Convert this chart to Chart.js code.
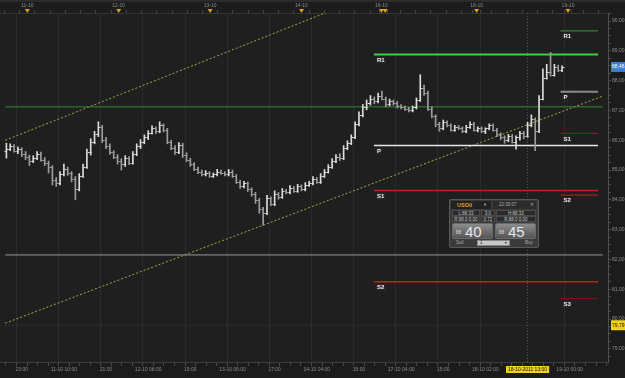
<!DOCTYPE html>
<html>
<head>
<meta charset="utf-8">
<script src="https://cdn.jsdelivr.net/npm/chart.js@4.4.0/dist/chart.umd.min.js"></script>
<style>
  html, body { margin: 0; padding: 0; background: #1c1c1c; }
  #wrap { position: relative; width: 625px; height: 378px; }
  #panel { position: absolute; left: 449px; top: 199px; width: 88px; height: 47px;
    background: #3b3b3b; border: 1px solid #5a5a5a; border-radius: 2px;
    font-family: "Liberation Sans", Arial, sans-serif; color: #c8c8c8; }
  #panel div { position: absolute; box-sizing: border-box; white-space: nowrap; }
  .cell { background: #2a2a2a; border: 1px solid #4a4a4a; font-size: 4.5px; line-height: 5px; text-align: center; }
  .btn { background: linear-gradient(#8c8c8c, #555); border: 1px solid #6a6a6a; border-radius: 2px; }
  .small { font-size: 4.5px; color: #ddd; }
  .big { font-size: 15px; color: #e8e8e8; line-height: 15px; }
</style>
</head>
<body>
<div id="wrap">
  <canvas id="oilChart" width="625" height="378"></canvas>
  <div id="panel">
    <div style="left:1px;top:1px;width:40px;height:8px;background:#222;"></div>
    <div style="left:7px;top:1px;font-size:5.5px;line-height:8px;color:#e0a030;font-weight:bold;">USOil</div>
    <div style="left:33px;top:1px;font-size:4px;line-height:8px;color:#bbb;">▼</div>
    <div style="left:43px;top:1px;width:43px;height:8px;background:#2c2c2c;"></div>
    <div style="left:49px;top:1px;font-size:4.5px;line-height:8px;color:#aaa;">22:39:07</div>
    <div style="left:80px;top:1px;font-size:4.5px;line-height:8px;color:#aaa;">✕</div>
    <div class="cell" style="left:2px;top:10px;width:28px;height:6px;">L:88.33</div>
    <div class="cell" style="left:31px;top:10px;width:14px;height:6px;">3.0</div>
    <div class="cell" style="left:46px;top:10px;width:40px;height:6px;">H:88.33</div>
    <div class="cell" style="left:2px;top:16px;width:28px;height:6px;">R:88.0 0.00</div>
    <div class="cell" style="left:31px;top:16px;width:14px;height:6px;">0.72</div>
    <div class="cell" style="left:46px;top:16px;width:40px;height:6px;">R:88.0 0.00</div>
    <div class="btn" style="left:2px;top:23px;width:41px;height:16px;"></div>
    <div class="small" style="left:6px;top:30px;">88</div>
    <div class="big" style="left:15px;top:24px;">40</div>
    <div class="btn" style="left:45px;top:23px;width:41px;height:16px;"></div>
    <div class="small" style="left:49px;top:30px;">88</div>
    <div class="big" style="left:58px;top:24px;">45</div>
    <div style="left:6px;top:40px;font-size:4.5px;color:#aaa;">Sell</div>
    <div style="left:27px;top:40px;width:33px;height:6px;background:#c8c8c8;border:1px solid #888;"></div>
    <div style="left:30px;top:40px;font-size:4.5px;line-height:6px;color:#222;">1</div>
    <div style="left:54px;top:40px;font-size:3.5px;line-height:6px;color:#222;">▼</div>
    <div style="left:75px;top:40px;font-size:4.5px;color:#aaa;">Buy</div>
  </div>
</div>
<script>
// hourly OHLC bars (index = trading hour, weekend removed)
const opens = [85.65,85.72,85.80,85.65,85.70, 85.55,85.45,85.30,85.40,85.55,85.35,85.25, 85.10,84.65, 84.55,84.85,85.05,84.90,84.70, 84.35,84.80, 85.10,85.60,85.95,86.20, 86.45,86.00,85.80,85.60, 85.45,85.30,85.20,85.40, 85.25,85.55,85.80,85.95, 86.10,86.25,86.40,86.30,86.50, 86.35,85.95,85.75,85.60, 85.85,85.50,85.35,85.20, 85.05,84.95,84.85,84.90,84.80,84.85,84.95,84.90,84.85,84.95, 84.80,84.60,84.45,84.55,84.35, 84.20,84.00,83.70, 83.55,84.05,83.85,84.20,84.10, 84.30,84.25,84.40,84.30,84.45, 84.35,84.50,84.55,84.70,84.60,84.80, 84.95,85.10,85.30,85.45, 85.40,85.75,85.90, 86.10,86.55,86.85, 87.10,87.25,87.40,87.30,87.50, 87.40,87.20,87.30,87.25,87.15,87.10,87.05,87.00,87.10, 87.35,87.75, 87.60,87.05,86.80, 86.55,86.40,86.60,86.50,86.35,86.45,86.40,86.30,86.45,86.55,86.35,86.40,86.30,86.40,86.50, 86.35,86.20,86.10,86.00,86.15,85.95,86.10,86.25, 86.15,86.50,86.70, 86.30,87.40, 88.10,88.30, 88.20,88.45,88.35];
const highs = [85.90,85.88,85.85,85.78,85.75, 85.62,85.50,85.48,85.62,85.60,85.42,85.30, 85.15,84.75, 84.95,85.20,85.10,84.95,84.78, 84.88,85.20, 85.70,86.05,86.30,86.62, 86.50,86.10,85.88,85.65, 85.52,85.38,85.48,85.45, 85.62,85.88,86.02,86.18, 86.32,86.48,86.45,86.62,86.55, 86.40,86.00,85.82,85.92, 85.90,85.58,85.40,85.25, 85.10,85.00,84.98,84.95,84.90,85.02,85.00,84.95,85.02,85.00, 84.85,84.65,84.62,84.60,84.40, 84.25,84.05,83.75, 84.15,84.10,84.30,84.25,84.38, 84.35,84.48,84.45,84.52,84.50, 84.58,84.62,84.78,84.75,84.88,85.02, 85.18,85.38,85.52,85.55, 85.82,85.98,86.18, 86.62,86.95,87.20, 87.35,87.50,87.45,87.58,87.65, 87.45,87.38,87.35,87.30,87.20,87.15,87.10,87.15,87.42, 88.20,87.85, 87.65,87.12,86.85, 86.60,86.68,86.65,86.55,86.50,86.50,86.45,86.50,86.62,86.60,86.45,86.45,86.42,86.55,86.55, 86.40,86.25,86.15,86.20,86.20,86.15,86.30,86.30, 86.60,86.85,86.75, 87.50,88.40, 88.55,88.95, 88.55,88.52,88.50];
const lows = [85.40,85.65,85.60,85.55,85.45, 85.35,85.15,85.25,85.35,85.30,85.15,84.90, 84.50,84.45, 84.50,84.80,84.82,84.60,84.00, 84.30,84.75, 85.05,85.50,85.88,86.12, 85.92,85.72,85.52,85.38, 85.20,85.00,85.12,85.18, 85.20,85.48,85.72,85.88, 86.02,86.20,86.22,86.25,86.28, 85.88,85.68,85.52,85.55, 85.42,85.28,85.12,84.98, 84.88,84.80,84.80,84.75,84.75,84.80,84.85,84.80,84.80,84.75, 84.55,84.38,84.40,84.28,84.12, 83.88,83.55,83.15, 83.50,83.80,83.80,84.02,84.05, 84.20,84.20,84.25,84.25,84.30, 84.30,84.45,84.50,84.55,84.55,84.75, 84.90,85.05,85.25,85.32, 85.35,85.68,85.85, 86.05,86.48,86.78, 87.02,87.18,87.22,87.25,87.35, 87.12,87.15,87.18,87.08,87.05,87.00,86.95,86.95,87.05, 87.30,87.50, 87.00,86.75,86.45, 86.30,86.35,86.45,86.30,86.30,86.35,86.25,86.25,86.40,86.30,86.28,86.25,86.22,86.35,86.30, 86.12,86.02,85.90,85.95,85.90,85.70,86.00,86.05, 86.10,86.45,85.65, 86.25,87.35, 88.05,88.15, 88.15,88.30,88.30];
const closes = [85.72,85.80,85.65,85.70,85.55, 85.45,85.30,85.40,85.55,85.35,85.25,85.10, 84.65,84.55, 84.85,85.05,84.90,84.70,84.35, 84.80,85.10, 85.60,85.95,86.20,86.45, 86.00,85.80,85.60,85.45, 85.30,85.20,85.40,85.25, 85.55,85.80,85.95,86.10, 86.25,86.40,86.30,86.50,86.35, 85.95,85.75,85.60,85.85, 85.50,85.35,85.20,85.05, 84.95,84.85,84.90,84.80,84.85,84.95,84.90,84.85,84.95,84.80, 84.60,84.45,84.55,84.35,84.20, 84.00,83.70,83.55, 84.05,83.85,84.20,84.10,84.30, 84.25,84.40,84.30,84.45,84.35, 84.50,84.55,84.70,84.60,84.80,84.95, 85.10,85.30,85.45,85.40, 85.75,85.90,86.10, 86.55,86.85,87.10, 87.25,87.40,87.30,87.50,87.40, 87.20,87.30,87.25,87.15,87.10,87.05,87.00,87.10,87.35, 87.75,87.60, 87.05,86.80,86.55, 86.40,86.60,86.50,86.35,86.45,86.40,86.30,86.45,86.55,86.35,86.40,86.30,86.40,86.50,86.35, 86.20,86.10,86.00,86.15,85.95,86.10,86.25,86.15, 86.50,86.70,86.30, 87.40,88.10, 88.30,88.20, 88.45,88.35,88.46];

// pivot levels (today, drawn from the session start)
const pivotNamesA = ['R1', 'P', 'S1', 'S2'];
const pivotValuesA = [88.88, 85.82, 84.31, 81.25];
const pivotStartA = 95.9;
// pivot levels (next session)
const pivotNamesB = ['R1', 'P', 'S1', 'S2', 'S3'];
const pivotValuesB = [89.67, 87.63, 86.23, 84.16, 80.69];
const pivotStartB = 144.6;
const pivotEnd = 154.4;
// full width horizontal lines
const hLineGreen = 87.12;
const hLineGray = 82.15;
// trend channel
const upperTrend = [[-0.3, 86.00], [90, 90.62]];
const lowerTrend = [[-0.3, 79.86], [155.6, 87.48]];
// crosshair
const crossX = 136;
const crossY = 79.79;
const lastPrice = 88.46;

// axis labels
const bottomTickPos = [4, 15, 26, 37, 48, 59, 70, 81, 92, 103, 114, 125, 136, 147];
const bottomTickText = ['23:00', '11-10 10:00', '21:00', '12-10 08:00', '19:00', '13-10 06:00', '17:00', '14-10 04:00', '15:00', '17-10 04:00', '15:00', '18-10 02:00', '18-10-2011 13:00', '19-10 00:00'];
const topTickPos = [5, 29, 53, 77, 98, 123, 147];
const topTickText = ['11-10', '12-10', '13-10', '14-10', '16-10', '18-10', '19-10'];
const dayMarkers = [5, 29, 53, 77, 98, 99, 123, 147];
const yTickValues = [79, 80, 81, 82, 83, 84, 85, 86, 87, 88, 89, 90];

const X_MIN = -0.28, X_MAX = 155.6;
const Y_MIN = 78.557, Y_MAX = 90.27;
const FONT = '"Liberation Sans", Arial, sans-serif';

function minorTicks(majors, step, min, max) {
    const out = [];
    for (let v = majors[0] - step * 4; v < max; v += step) {
        if (v > min && !majors.some(m => Math.abs(m - v) < 0.01)) out.push(v);
    }
    return out;
}

// background + frame
const bgPlugin = {
    id: 'bg',
    beforeDraw(chart) {
        const c = chart.ctx, a = chart.chartArea;
        c.save();
        c.fillStyle = '#1c1c1c';
        c.fillRect(0, 0, chart.width, chart.height);
        c.fillStyle = '#1f1f1f';
        c.fillRect(a.left, a.top, a.right - a.left, a.bottom - a.top);
        c.fillStyle = '#2c2c2c';
        c.fillRect(0, 0, chart.width, 2);
        c.restore();
    }
};

// open/close ticks, pivot labels, day markers
const ohlcPlugin = {
    id: 'ohlc',
    afterDatasetsDraw(chart) {
        const c = chart.ctx, xs = chart.scales.x, ys = chart.scales.y;
        c.save();
        c.lineWidth = 1;
        opens.forEach((o, i) => {
            const x = Math.round(xs.getPixelForValue(i)) + 0.5;
            c.strokeStyle = closes[i] >= o ? '#dcdcdc' : '#9c9c9c';
            c.beginPath();
            const yo = Math.round(ys.getPixelForValue(o)) + 0.5;
            const yc = Math.round(ys.getPixelForValue(closes[i])) + 0.5;
            c.moveTo(x - 2, yo); c.lineTo(x, yo);
            c.moveTo(x, yc); c.lineTo(x + 2, yc);
            c.stroke();
        });
        // pivot labels
        c.font = 'bold 6px ' + FONT;
        c.textBaseline = 'top';
        const drawLabels = (names, values, start) => {
            names.forEach((n, k) => {
                const x = xs.getPixelForValue(start) + 2;
                const y = ys.getPixelForValue(values[k]) + 2;
                const w = c.measureText(n).width + 2;
                c.fillStyle = '#262626';
                c.fillRect(x, y, w, 7);
                c.fillStyle = '#eeeeee';
                c.fillText(n, x + 1, y + 0.5);
            });
        };
        drawLabels(pivotNamesA, pivotValuesA, pivotStartA);
        drawLabels(pivotNamesB, pivotValuesB, pivotStartB);
        c.restore();
    },
    afterDraw(chart) {
        const c = chart.ctx, xt = chart.scales.xTop;
        c.save();
        c.fillStyle = '#d9a11c';
        dayMarkers.forEach(p => {
            const x = xt.getPixelForValue(p);
            c.beginPath();
            c.moveTo(x - 2.5, 9); c.lineTo(x + 2.5, 9); c.lineTo(x, 13);
            c.closePath(); c.fill();
        });
        c.restore();
    }
};

function levelDataset(value, start, end, color, width) {
    return {
        type: 'line', data: [{ x: start, y: value }, { x: end, y: value }],
        borderColor: color, borderWidth: width, pointRadius: 0, order: 2
    };
}

function initChart() {
    const ctx = document.getElementById('oilChart');
    const idx = opens.map((_, i) => i);
    const colorsA = ['#3fcf3f', '#e6e6e6', '#c42020', '#c42020'];
    const colorsB = ['#3b9a3b', '#8a8a8a', '#8e2020', '#8e2020', '#7a1818'];
    const widthsA = [2, 1.5, 1.5, 1.5];
    const widthsB = [1, 2, 1, 1.5, 1];

    const datasets = [{
        type: 'bar',
        data: idx.map(i => ({ x: i, y: [lows[i], highs[i]] })),
        backgroundColor: idx.map(i => closes[i] >= opens[i] ? '#dcdcdc' : '#9c9c9c'),
        barThickness: 1, borderWidth: 0, order: 0
    }];
    datasets.push(levelDataset(hLineGreen, X_MIN, X_MAX, '#2f8f2f', 1));
    datasets.push(levelDataset(hLineGray, X_MIN, X_MAX, '#9a9a9a', 1));
    pivotValuesA.forEach((v, k) => datasets.push(levelDataset(v, pivotStartA, pivotEnd, colorsA[k], widthsA[k])));
    pivotValuesB.forEach((v, k) => datasets.push(levelDataset(v, pivotStartB, pivotEnd, colorsB[k], widthsB[k])));
    [upperTrend, lowerTrend].forEach(t => datasets.push({
        type: 'line', data: t.map(p => ({ x: p[0], y: p[1] })),
        borderColor: '#a8a848', borderWidth: 1, borderDash: [2, 2], pointRadius: 0, order: 3
    }));
    datasets.push({
        type: 'line', data: [{ x: crossX, y: Y_MIN }, { x: crossX, y: Y_MAX }],
        borderColor: '#5a5a5a', borderWidth: 1, borderDash: [1, 2], pointRadius: 0, order: 4
    });
    datasets.push({
        type: 'line', data: [{ x: X_MIN, y: crossY }, { x: X_MAX, y: crossY }],
        borderColor: '#4a4a4a', borderWidth: 1, borderDash: [1, 3], pointRadius: 0, order: 4
    });

    const yMinor = minorTicks(yTickValues, 0.25, Y_MIN, Y_MAX);
    const bMinor = minorTicks(bottomTickPos, 2.75, X_MIN, X_MAX);
    const tMinor = minorTicks(topTickPos.slice(0, 4), 4, X_MIN, X_MAX);

    new Chart(ctx, {
        type: 'bar',
        data: { datasets: datasets },
        plugins: [bgPlugin, ohlcPlugin],
        options: {
            responsive: false,
            animation: false,
            layout: { padding: 0 },
            plugins: { legend: { display: false }, tooltip: { enabled: false } },
            scales: {
                x: {
                    type: 'linear', position: 'bottom', min: X_MIN, max: X_MAX,
                    afterFit: s => { s.height = 16; },
                    afterBuildTicks: s => {
                        s.ticks = bottomTickPos.concat(bMinor).sort((a, b) => a - b).map(v => ({ value: v }));
                    },
                    border: { color: '#3c3c3c' },
                    grid: {
                        tickLength: 4,
                        color: c => (c.tick && bottomTickPos.includes(c.tick.value) && c.tick.value !== crossX) ? '#2b2b2b' : 'rgba(0,0,0,0)',
                        tickColor: '#4a4a4a'
                    },
                    ticks: {
                        autoSkip: false, maxRotation: 0, padding: 1,
                        font: { size: 5, family: FONT },
                        color: c => c.tick && c.tick.value === crossX ? '#111' : '#8c8c8c',
                        showLabelBackdrop: c => c.tick && c.tick.value === crossX,
                        backdropColor: '#f2d21c',
                        backdropPadding: { left: 2, right: 2, top: 1, bottom: 0 },
                        callback: v => {
                            const k = bottomTickPos.indexOf(v);
                            return k >= 0 ? bottomTickText[k] : '';
                        }
                    }
                },
                xTop: {
                    type: 'linear', position: 'top', min: X_MIN, max: X_MAX,
                    afterFit: s => { s.height = 13; },
                    afterBuildTicks: s => {
                        s.ticks = topTickPos.concat(tMinor).sort((a, b) => a - b).map(v => ({ value: v }));
                    },
                    border: { color: '#353535' },
                    grid: { drawOnChartArea: false, tickLength: 3, tickColor: '#444' },
                    ticks: {
                        autoSkip: false, maxRotation: 0, padding: 1,
                        font: { size: 5, family: FONT }, color: '#8c8c8c',
                        callback: v => {
                            const k = topTickPos.indexOf(v);
                            return k >= 0 ? topTickText[k] : '';
                        }
                    }
                },
                y: {
                    type: 'linear', position: 'right', min: Y_MIN, max: Y_MAX,
                    afterFit: s => { s.width = 17; },
                    afterBuildTicks: s => {
                        s.ticks = yTickValues.concat(yMinor, [lastPrice, crossY]).sort((a, b) => a - b).map(v => ({ value: v }));
                    },
                    border: { color: '#505050' },
                    grid: {
                        drawOnChartArea: false, tickLength: 3,
                        tickColor: c => (c.tick && (c.tick.value === lastPrice || c.tick.value === crossY)) ? 'rgba(0,0,0,0)' : '#4c4c4c'
                    },
                    ticks: {
                        autoSkip: false, padding: 1,
                        font: { size: 5, family: FONT },
                        color: c => c.tick && c.tick.value === lastPrice ? '#ffffff' : (c.tick && c.tick.value === crossY ? '#111' : '#8c8c8c'),
                        showLabelBackdrop: c => c.tick && (c.tick.value === lastPrice || c.tick.value === crossY),
                        backdropColor: c => c.tick && c.tick.value === lastPrice ? '#3d7fd6' : '#f2d21c',
                        backdropPadding: { left: 1, right: 2, top: 2, bottom: 2 },
                        callback: v => {
                            if (yTickValues.includes(v) || v === lastPrice || v === crossY) return v.toFixed(2).replace('.', ',');
                            return '';
                        }
                    }
                }
            }
        }
    });
}

document.addEventListener('DOMContentLoaded', initChart);
</script>
</body>
</html>
